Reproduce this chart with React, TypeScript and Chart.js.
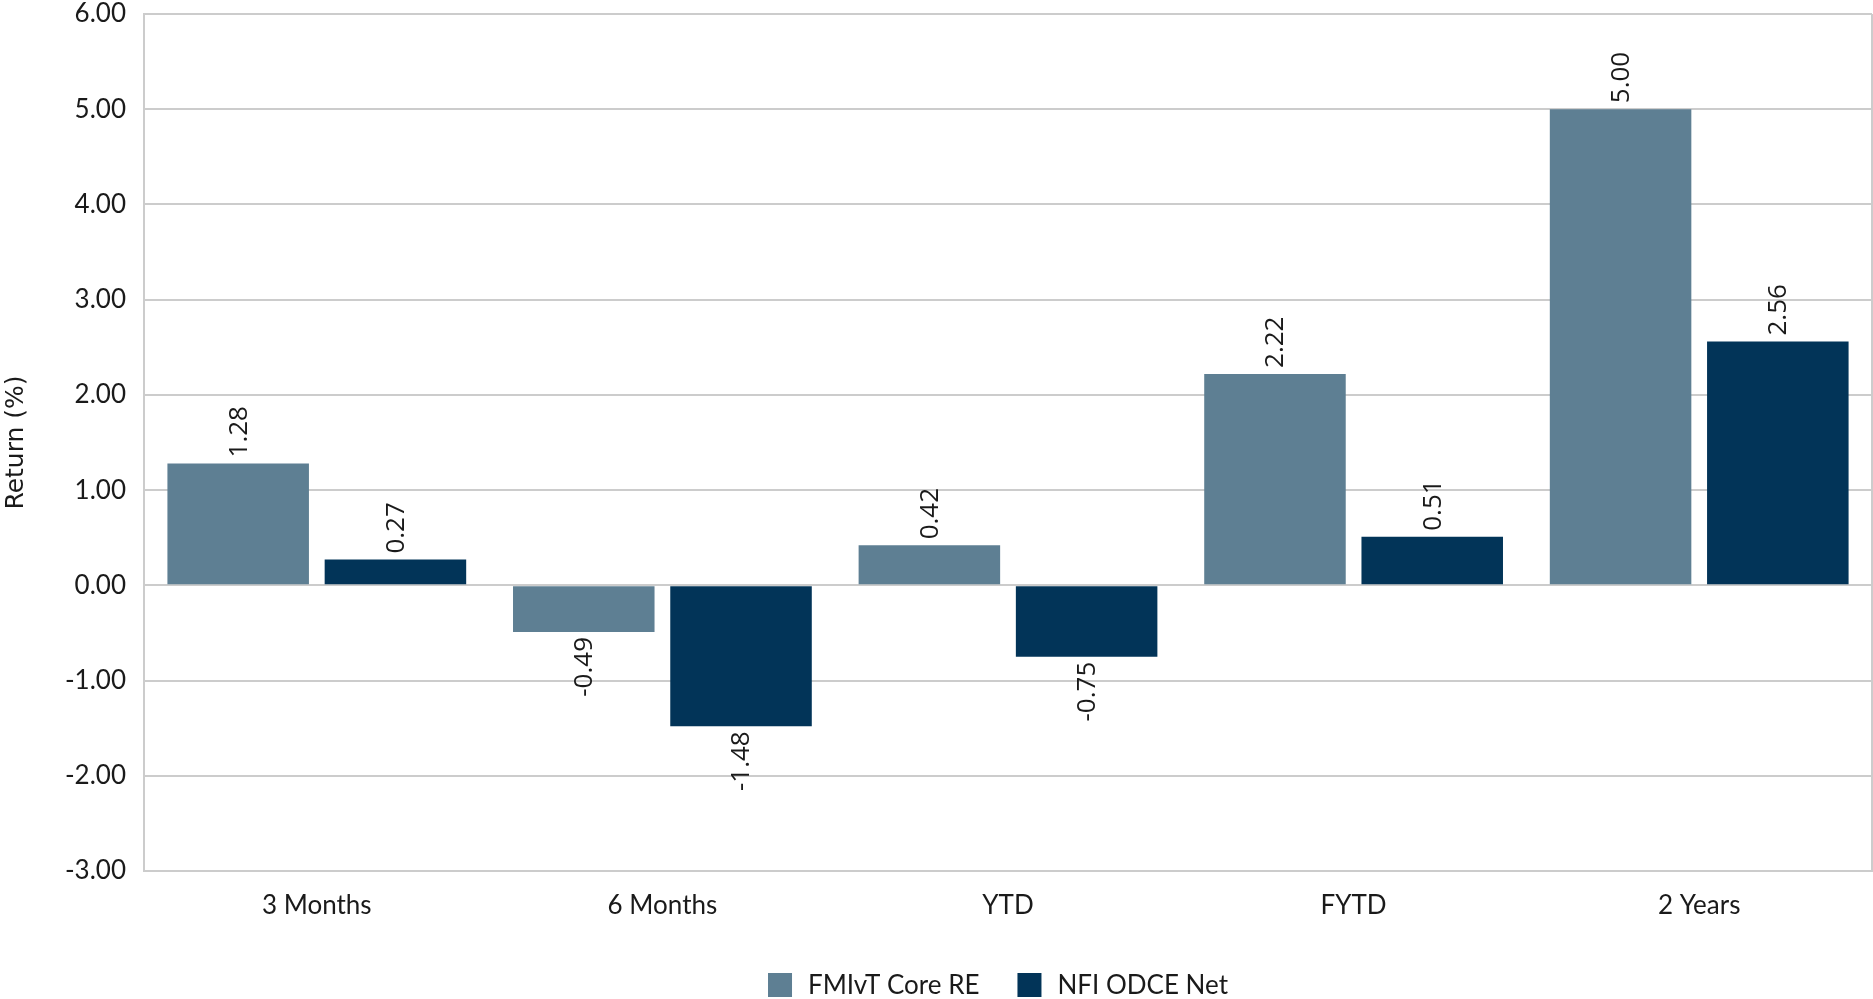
import React, { useEffect, useRef } from "react";
import { Chart, registerables } from "chart.js";

Chart.register(...registerables);

const categories = ["3 Months", "6 Months", "YTD", "FYTD", "2 Years"];
const fmivtValues = [1.28, -0.49, 0.42, 2.22, 5.0];
const nfiValues = [0.27, -1.48, -0.75, 0.51, 2.56];
const seriesNames = ["FMIvT Core RE", "NFI ODCE Net"];
const seriesColors = ["#5E7F93", "#023458"];
const yMin = -3;
const yMax = 6;
const yStep = 1;

const TICK_FONT = "Lato, 'Open Sans', sans-serif";
const LABEL_FONT = "'Open Sans', 'Noto Sans', sans-serif";
const TITLE_FONT = "'DejaVu Sans', sans-serif";
const GRID = "#cccccc";
const TEXT = "#1a1a1a";

const dataLabels = {
  id: "dataLabels",
  afterDatasetsDraw(chart: any) {
    const ctx = chart.ctx;
    ctx.save();
    ctx.fillStyle = TEXT;
    ctx.font = `26px ${LABEL_FONT}`;
    ctx.textBaseline = "middle";
    chart.data.datasets.forEach((ds: any, di: number) => {
      const meta = chart.getDatasetMeta(di);
      meta.data.forEach((el: any, i: number) => {
        const v = ds.data[i] as number;
        const pos = v >= 0;
        ctx.save();
        ctx.translate(el.x + 1, pos ? el.y - 6 : el.y + 5);
        ctx.rotate(-Math.PI / 2);
        ctx.textAlign = pos ? "left" : "right";
        ctx.fillText(v.toFixed(2), 0, 0);
        ctx.restore();
      });
    });
    ctx.restore();
  },
};

const frame = {
  id: "frame",
  beforeDatasetsDraw(chart: any) {
    const { ctx, chartArea } = chart;
    ctx.save();
    ctx.strokeStyle = GRID;
    ctx.lineWidth = 2;
    ctx.beginPath();
    ctx.moveTo(chartArea.right, chartArea.top);
    ctx.lineTo(chartArea.right, chartArea.bottom);
    ctx.stroke();
    ctx.restore();
  },
};

const bottomLegend = {
  id: "bottomLegend",
  afterDraw(chart: any) {
    const { ctx, chartArea } = chart;
    const box = 24;
    const gap = 16;
    const spacing = 38;
    ctx.save();
    ctx.font = `26px ${TICK_FONT}`;
    ctx.textBaseline = "middle";
    ctx.textAlign = "left";
    const items = chart.data.datasets.map((ds: any) => ({
      text: ds.label,
      color: ds.backgroundColor,
      w: box + gap + ctx.measureText(ds.label).width,
    }));
    const total = items.reduce((s: number, it: any) => s + it.w, 0) + spacing * (items.length - 1);
    let x = (chartArea.left + chartArea.right) / 2 - 10 - total / 2;
    const y = chart.height - 14;
    items.forEach((it: any) => {
      ctx.fillStyle = it.color;
      ctx.fillRect(x, y - box / 2, box, box);
      ctx.fillStyle = TEXT;
      ctx.fillText(it.text, x + box + gap, y + 1);
      x += it.w + spacing;
    });
    ctx.restore();
  },
};

export default function App() {
  const ref = useRef<HTMLCanvasElement | null>(null);
  useEffect(() => {
    if (!ref.current) return;
    const chart = new Chart(ref.current, {
      type: "bar",
      data: {
        labels: categories,
        datasets: [
          {
            label: seriesNames[0],
            data: fmivtValues,
            backgroundColor: seriesColors[0],
            categoryPercentage: 0.91,
            barPercentage: 0.9,
          },
          {
            label: seriesNames[1],
            data: nfiValues,
            backgroundColor: seriesColors[1],
            categoryPercentage: 0.91,
            barPercentage: 0.9,
          },
        ],
      },
      options: {
        animation: false,
        responsive: true,
        maintainAspectRatio: false,
        layout: { padding: { top: 14, right: 1, left: 0, bottom: 70 } },
        plugins: {
          tooltip: { enabled: false },
          legend: { display: false },
        },
        scales: {
          x: {
            grid: { display: false, drawTicks: false },
            border: { display: true, color: GRID, width: 2 },
            ticks: {
              color: TEXT,
              padding: 19,
              font: { family: TICK_FONT, size: 26 },
            },
            afterFit(scale: any) {
              scale.height = 58;
            },
          },
          y: {
            min: yMin,
            max: yMax,
            grid: { color: GRID, lineWidth: 2, drawTicks: false },
            border: { display: true, color: GRID, width: 2 },
            ticks: {
              stepSize: yStep,
              color: TEXT,
              padding: 18,
              font: { family: TICK_FONT, size: 26 },
              callback: (v: any) => Number(v).toFixed(2),
            },
            title: {
              display: true,
              text: "Return (%)",
              color: TEXT,
              padding: { top: 1, bottom: 0 },
              font: { family: TITLE_FONT, size: 25 },
            },
            afterFit(scale: any) {
              scale.width = 144;
              scale.paddingTop = 0;
              scale.paddingBottom = 0;
            },
          },
        },
      },
      plugins: [dataLabels, frame, bottomLegend],
    });
    return () => chart.destroy();
  }, []);
  return (
    <div style={{ position: "absolute", left: 0, top: 0, width: 1873, height: 999 }}>
      <canvas ref={ref} />
    </div>
  );
}
